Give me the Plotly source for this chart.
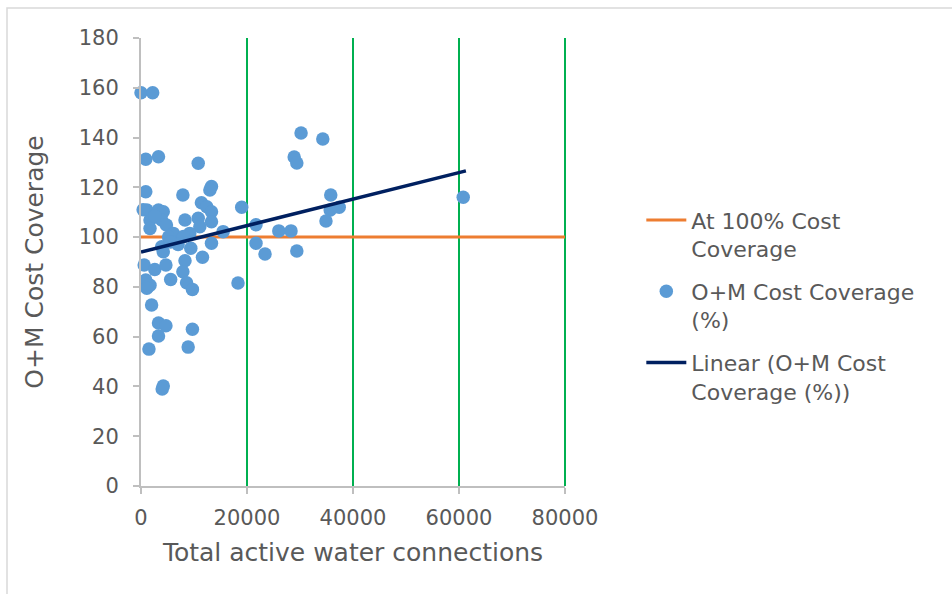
import plotly.graph_objects as go

# Data (connections, coverage %)
connections = [0, 2200, 900, 3300, 10800, 900, 7900, 13300, 13000, 11400,
               1100, 3300, 4200, 12400, 13300, 1700, 3900, 4800, 1700, 8300,
               10800, 13300, 11100, 6100, 9200, 15500, 19000, 13300, 8000, 3900,
               400, 2600, 5200, 5600, 7000, 9400, 8300, 7900, 11600, 8600,
               9700, 4200, 600, 2600, 4700, 5600, 900, 1700, 1100, 2000,
               3300, 4700, 3300, 1500, 8900, 9700, 4200, 4000, 18300, 21700,
               21700, 23400, 26000, 28300, 30200, 34300, 28900, 29400, 35800, 35700,
               37400, 34900, 29400, 60800]
coverage = [158, 158, 131.3, 132.3, 129.7, 118.2, 116.9, 120.3, 118.9, 113.8,
            110.9, 110.9, 110.2, 112.2, 110.2, 106.9, 106.9, 104.9, 103.5, 106.9,
            107.6, 106.2, 104.2, 101.5, 101.5, 102.2, 112.0, 97.5, 100.2, 96.1,
            111.0, 108.5, 100.0, 98.0, 97.0, 95.5, 90.5, 86.1, 91.9, 81.7,
            79.0, 94.1, 88.8, 87.0, 88.8, 83.0, 82.8, 80.7, 79.5, 72.7,
            65.5, 64.4, 60.3, 55.0, 55.8, 63.0, 40.2, 39.0, 81.6, 105.0,
            97.5, 93.2, 102.5, 102.5, 141.8, 139.4, 132.2, 129.8, 116.9, 110.9,
            112.0, 106.5, 94.4, 116.0]

target_x = [0, 80000]
target_y = [100, 100]

trend_x = [0, 61300]
trend_y = [94.0, 126.6]

x_ticks = [0, 20000, 40000, 60000, 80000]
y_ticks = list(range(0, 181, 20))
x_range = [0, 80000]

FONT = "DejaVu Sans"
GREY = "#595959"
GRID = "#00B050"

fig = go.Figure()
fig.add_trace(go.Scatter(x=target_x, y=target_y, mode="lines",
                         name="At 100% Cost<br>Coverage", legendgroup="a",
                         line=dict(color="#ED7D31", width=3)))
fig.add_trace(go.Scatter(x=connections, y=coverage, mode="markers",
                         name="O+M Cost Coverage<br>(%)", cliponaxis=False, legendgroup="b",
                         marker=dict(color="#5B9BD5", size=13.5)))
fig.add_trace(go.Scatter(x=trend_x, y=trend_y, mode="lines",
                         name="Linear (O+M Cost<br>Coverage (%))", legendgroup="c",
                         line=dict(color="#002060", width=3.5)))

# gridline at the right edge (plotly hides gridlines on the range boundary)
edge_pos = (x_ticks[-1] - x_range[0]) / (x_range[1] - x_range[0])
edge_grid = [dict(type="line", xref="paper", yref="paper", x0=edge_pos, x1=edge_pos,
                  y0=0, y1=1, line=dict(color=GRID, width=2), layer="below")]

fig.update_layout(
    width=952, height=594,
    margin=dict(l=141, r=387, t=38, b=108),
    paper_bgcolor="white", plot_bgcolor="white",
    font=dict(family=FONT, color=GREY, size=21),
    legend=dict(x=1.18, y=0.64, xanchor="left", yanchor="top", valign="top",
                font=dict(size=22, color=GREY, family=FONT), tracegroupgap=11,
                itemwidth=40, bgcolor="rgba(0,0,0,0)"),
    xaxis=dict(range=x_range, tickvals=x_ticks, ticktext=[str(v) for v in x_ticks],
               showgrid=True, gridcolor=GRID, gridwidth=2,
               zeroline=False, showline=True, linecolor="#BFBFBF", linewidth=2,
               ticks="outside", ticklen=6, tickcolor="#BFBFBF", tickwidth=2,
               ticklabelstandoff=6,
               tickfont=dict(size=21, color=GREY),
               title=dict(text="Total active water connections", font=dict(size=25, color=GREY),
                          standoff=14)),
    yaxis=dict(range=[0, 180], tickvals=y_ticks,
               showgrid=False, zeroline=False, showline=True, linecolor="#BFBFBF", linewidth=2,
               ticks="outside", ticklen=6, tickcolor="#BFBFBF", tickwidth=2,
               ticklabelstandoff=10,
               tickfont=dict(size=21, color=GREY),
               title=dict(text="O+M Cost Coverage", font=dict(size=25, color=GREY),
                          standoff=28)),
    shapes=[dict(type="rect", xref="paper", yref="paper",
                 x0=(7 - 141) / 424, x1=(960 - 141) / 424,
                 y0=(486 - 600) / 448, y1=(486 - 8) / 448,
                 line=dict(color="#D9D9D9", width=1.5), fillcolor="rgba(0,0,0,0)",
                 layer="below")] + edge_grid,
    showlegend=True,
)

fig.write_html("out.html")
